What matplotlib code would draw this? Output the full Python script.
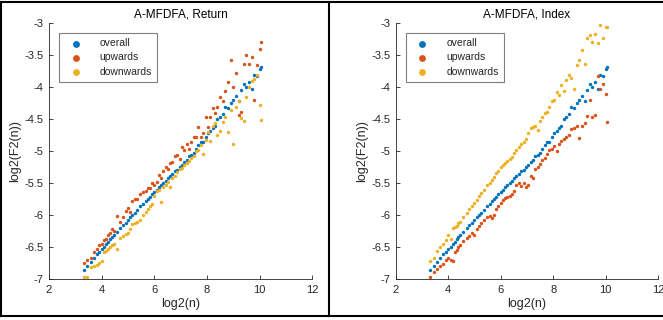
import matplotlib
matplotlib.use("Agg")
from matplotlib import pyplot as plt
from matplotlib.lines import Line2D

plt.rcParams['font.family'] = ['Liberation Sans', 'DejaVu Sans']
plt.rcParams['axes.unicode_minus'] = False

# log2(n) sample positions, shared by every series
log2_n = [3.32, 3.46, 3.58, 3.70, 3.81, 3.91, 4.00, 4.09, 4.17, 4.25, 4.32, 4.39, 4.46,
          4.58, 4.70, 4.81, 4.91, 5.00, 5.09, 5.17, 5.25, 5.36, 5.46, 5.58, 5.67, 5.75,
          5.83, 5.91, 6.00, 6.09, 6.17, 6.25, 6.34, 6.43, 6.51, 6.60, 6.69, 6.78, 6.87,
          6.96, 7.05, 7.14, 7.23, 7.32, 7.41, 7.50, 7.59, 7.68, 7.77, 7.86, 7.95, 8.04,
          8.13, 8.22, 8.31, 8.40, 8.50, 8.60, 8.70, 8.80, 8.90, 9.00, 9.10, 9.20, 9.30,
          9.40, 9.50, 9.60, 9.70, 9.80, 9.90, 10.00, 10.05]

overall = [-6.85, -6.79, -6.73, -6.66, -6.61, -6.57, -6.52, -6.49, -6.44, -6.41, -6.37, -6.34, -6.31,
           -6.26, -6.20, -6.15, -6.12, -6.08, -6.03, -6.00, -5.96, -5.92, -5.86, -5.82, -5.77, -5.74,
           -5.71, -5.67, -5.64, -5.60, -5.56, -5.53, -5.49, -5.46, -5.42, -5.39, -5.35, -5.31, -5.29,
           -5.25, -5.22, -5.17, -5.13, -5.08, -5.05, -5.02, -4.97, -4.90, -4.85, -4.86, -4.78, -4.72,
           -4.68, -4.63, -4.60, -4.50, -4.47, -4.42, -4.30, -4.33, -4.24, -4.20, -4.14, -4.21, -4.04,
           -3.94, -4.00, -3.92, -4.03, -3.80, -3.82, -3.72, -3.68]

return_up = [-6.74, -6.70, -6.66, -6.57, -6.53, -6.46, -6.44, -6.38, -6.37, -6.30, -6.28, -6.22, -6.24,
             -6.01, -6.11, -6.03, -5.93, -5.88, -5.94, -5.78, -5.74, -5.75, -5.66, -5.64, -5.62, -5.58,
             -5.57, -5.50, -5.53, -5.48, -5.37, -5.42, -5.30, -5.24, -5.27, -5.18, -5.16, -5.08, -5.05,
             -5.12, -4.93, -4.98, -4.88, -4.96, -4.85, -4.78, -4.77, -4.62, -4.78, -4.72, -4.46, -4.62,
             -4.47, -4.33, -4.40, -4.30, -4.15, -4.22, -4.06, -3.91, -3.58, -3.99, -3.78, -4.43, -4.38,
             -3.63, -3.49, -3.64, -3.52, -4.20, -3.65, -3.40, -3.29]

return_down = [-6.97, -6.97, -6.81, -6.79, -6.77, -6.74, -6.72, -6.58, -6.56, -6.52, -6.50, -6.47, -6.45,
               -6.53, -6.36, -6.32, -6.29, -6.27, -6.22, -6.14, -6.12, -6.10, -6.08, -5.99, -5.94, -5.90,
               -5.85, -5.82, -5.70, -5.62, -5.60, -5.79, -5.56, -5.52, -5.48, -5.55, -5.41, -5.38, -5.32,
               -5.28, -5.26, -5.22, -5.18, -5.15, -5.11, -5.08, -5.00, -4.98, -4.90, -5.04, -4.82, -4.70,
               -4.84, -4.60, -4.56, -4.75, -4.68, -4.54, -4.46, -4.70, -4.36, -4.88, -4.30, -4.22, -4.48,
               -4.52, -4.15, -4.00, -3.90, -3.87, -3.80, -4.28, -4.51]

index_up = [-6.97, -6.88, -6.84, -6.79, -6.76, -6.70, -6.67, -6.69, -6.72, -6.58, -6.54, -6.50, -6.47,
            -6.40, -6.36, -6.32, -6.28, -6.30, -6.22, -6.16, -6.12, -6.07, -6.03, -6.01, -6.04, -5.99,
            -5.90, -5.86, -5.81, -5.76, -5.73, -5.71, -5.69, -5.67, -5.62, -5.52, -5.50, -5.54, -5.49,
            -5.56, -5.52, -5.39, -5.42, -5.27, -5.24, -5.19, -5.14, -5.10, -5.04, -4.98, -4.96, -4.92,
            -5.00, -4.88, -4.84, -4.80, -4.77, -4.74, -4.65, -4.64, -4.60, -4.79, -4.61, -4.55, -4.44,
            -4.20, -4.47, -4.43, -3.83, -4.02, -3.94, -4.10, -4.54]

index_down = [-6.71, -6.67, -6.56, -6.49, -6.44, -6.39, -6.31, -6.37, -6.20, -6.18, -6.16, -6.12, -6.10,
              -6.02, -5.96, -5.90, -5.86, -5.80, -5.76, -5.70, -5.65, -5.60, -5.53, -5.50, -5.44, -5.40,
              -5.34, -5.30, -5.25, -5.21, -5.18, -5.15, -5.12, -5.09, -5.02, -4.98, -4.93, -4.89, -4.85,
              -4.80, -4.72, -4.64, -4.62, -4.61, -4.66, -4.52, -4.46, -4.40, -4.38, -4.30, -4.22, -4.20,
              -4.07, -4.12, -3.96, -4.05, -3.89, -3.81, -3.86, -4.02, -3.65, -3.57, -3.42, -3.63, -3.23,
              -3.18, -3.29, -3.16, -3.31, -3.03, -3.23, -3.05, -3.06]

titles = ["A-MFDFA, Return", "A-MFDFA, Index"]
labels = ["overall", "upwards", "downwards"]
colors = ["#0072BD", "#D95319", "#EDB120"]
grey = "#262626"

fig = plt.figure(figsize=(6.63, 3.2), dpi=100)
ax1 = fig.add_axes([0.0739, 0.127, 0.397, 0.800])
ax2 = fig.add_axes([0.597, 0.127, 0.3955, 0.800])

for ax, title, up, down in [(ax1, titles[0], return_up, return_down),
                            (ax2, titles[1], index_up, index_down)]:
    for ys, lab, col in zip([overall, up, down], labels, colors):
        ax.scatter(log2_n, ys, s=6, color=col, label=lab, linewidths=0)
    ax.set_xlim(2, 12)
    ax.set_ylim(-7, -3)
    ax.set_xticks([2, 4, 6, 8, 10, 12])
    ax.set_yticks([-7, -6.5, -6, -5.5, -5, -4.5, -4, -3.5, -3])
    ax.set_yticklabels(["-7", "-6.5", "-6", "-5.5", "-5", "-4.5", "-4", "-3.5", "-3"])
    ax.spines["top"].set_visible(False)
    ax.spines["right"].set_visible(False)
    for sp in ["left", "bottom"]:
        ax.spines[sp].set_color(grey)
        ax.spines[sp].set_linewidth(0.6)
    ax.tick_params(direction="in", length=3, width=0.6, colors=grey, labelsize=8, pad=4)
    ax.set_title(title, fontsize=8.5, color="black", pad=4)
    ax.set_xlabel("log2(n)", fontsize=9, color=grey, labelpad=2)
    ax.set_ylabel("log2(F2(n))", fontsize=9, color=grey, labelpad=2)
    leg = ax.legend(loc="upper left", bbox_to_anchor=(0.038, 0.962), borderaxespad=0,
                    fontsize=7.5, markerscale=2.0, fancybox=False, framealpha=1,
                    edgecolor="#7f7f7f", handletextpad=1.2, borderpad=0.5,
                    labelspacing=0.4, handlelength=2.2)
    leg.get_frame().set_linewidth(0.8)
    for t in leg.get_texts():
        t.set_color(grey)

# black panel frame lines of the original screenshot
for xy in [([0, 1], [0.994, 0.994]), ([0, 1], [0.013, 0.013]),
           ([0.002, 0.002], [0.013, 0.994]), ([0.496, 0.496], [0.013, 0.994])]:
    fig.add_artist(Line2D(xy[0], xy[1], color="black", linewidth=1.5))

fig.savefig("out.png", dpi=100)
